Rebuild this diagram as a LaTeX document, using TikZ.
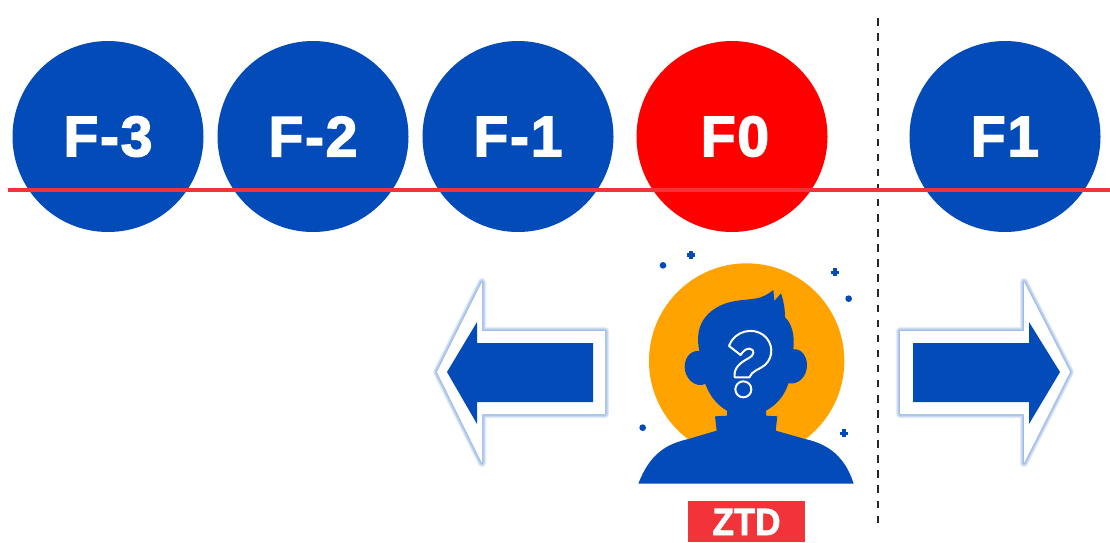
\documentclass[tikz,border=0pt]{standalone}
\usepackage{fontspec}
\setmainfont{Liberation Sans}
\newfontfamily\labelfont[LetterSpace=3,BoldFeatures={FakeBold=2.5}]{Liberation Sans}
\newfontfamily\tagfont[FakeStretch=0.92,BoldFeatures={FakeBold=2}]{Liberation Sans}
\definecolor{bluefill}{HTML}{024BB8}
\definecolor{redfill}{HTML}{FF0000}
\definecolor{redline}{HTML}{F23339}
\definecolor{sun}{HTML}{FFA300}
\definecolor{glow}{HTML}{2F6FD0}
\tikzset{
  frame/.style={circle,minimum size=191pt,inner sep=0pt,text=white,font=\labelfont\fontsize{57}{57}\selectfont\bfseries},
  bluecirc/.style={frame,fill=bluefill},
  redcirc/.style={frame,fill=redfill},
  arrowglow/.style={draw=glow,line join=round,opacity=0.11,fill=none},
  arrowface/.style={fill=white},
  arrowcore/.style={fill=bluefill},
  spark/.style={fill=bluefill},
  px/.style={x=1pt,y=-1pt},
  zoomA/.style={shift={(620,240)},x=0.33333pt,y=-0.33333pt}
}
\begin{document}
\begin{tikzpicture}[px]
\useasboundingbox (0,0) rectangle (1110,542);
\fill[white] (0,0) rectangle (1110,542);
% frames
\node[bluecirc] (f3) at (108,136.5) {F-3};
\node[bluecirc] (f2) at (313,136.5) {F-2};
\node[bluecirc] (f1) at (518,136.5) {F-1};
\node[redcirc] (f0) at (732,136.5) {\hspace*{6pt}F0};
\node[bluecirc] (fp) at (1005,136.5) {F1};
\draw[black!85,line width=1.5pt,dash pattern=on 7.5pt off 7.58pt] (878,18) -- (878,525);
\draw[redline,line width=4pt] (8,189.5) -- (1110,189.5);
% left arrow
\def\leftouter{(437,372) -- (482,282) -- (482,331) -- (605,331) -- (605,414) -- (482,414) -- (482,463) -- cycle}
\foreach \w in {8,6.5,5,3.5,2}{\draw[arrowglow,line width=\w pt] \leftouter;}
\fill[arrowface] \leftouter;
\fill[arrowcore] (447,372) -- (477,322) -- (477,343) -- (593,343) -- (593,402) -- (477,402) -- (477,424) -- cycle;
% right arrow
\def\rightouter{(1070,372) -- (1024,282) -- (1024,331) -- (900,331) -- (900,414) -- (1024,414) -- (1024,463) -- cycle}
\foreach \w in {8,6.5,5,3.5,2}{\draw[arrowglow,line width=\w pt] \rightouter;}
\fill[arrowface] \rightouter;
\fill[arrowcore] (1060,372) -- (1029,322) -- (1029,343) -- (913,343) -- (913,402) -- (1029,402) -- (1029,424) -- cycle;
% person
\begin{scope}[zoomA]
\fill[sun] (380,363) circle[radius=293];
\fill[bluefill] (55,731) .. controls (90,640) and (140,612) .. (205,597)
  -- (290,572) -- (285,529) -- (321,527) -- (321,512)
  .. controls (290,495) and (268,465) .. (256,432)
  .. controls (225,445) and (194,415) .. (194,380)
  .. controls (194,350) and (215,330) .. (238,333)
  .. controls (225,270) and (245,225) .. (300,197)
  .. controls (340,178) and (385,180) .. (410,175)
  .. controls (430,171) and (445,162) .. (460,150)
  -- (463,183) -- (483,160)
  .. controls (490,180) and (495,205) .. (495,232)
  .. controls (515,250) and (525,285) .. (520,328)
  .. controls (545,325) and (561,350) .. (561,375)
  .. controls (561,410) and (535,435) .. (505,430)
  .. controls (495,465) and (470,495) .. (438,512)
  -- (438,527) -- (472,529) -- (467,572) -- (555,597)
  .. controls (625,612) and (675,650) .. (701,731) -- cycle;
\draw[white,line width=2pt,line join=round]
  (327,318) .. controls (345,270) and (400,262) .. (430,285)
  .. controls (460,308) and (462,350) .. (435,375)
  .. controls (420,388) and (395,392) .. (388,412)
  -- (344,412)
  .. controls (340,385) and (360,368) .. (385,355)
  .. controls (405,345) and (405,328) .. (388,326)
  .. controls (378,325) and (368,335) .. (362,345) -- cycle;
\draw[white,line width=2pt] (370,448) circle[radius=24];
\foreach \p in {(129,76),(686,176),(68,563)}{\fill[spark] \p circle[radius=10];}
\foreach \p in {(213,45),(645,97),(672,580)}{
  \fill[spark] \p ++(-12,-5) rectangle ++(24,10);
  \fill[spark] \p ++(-5,-12) rectangle ++(10,24);
}
\end{scope}
% label
\node[fill=redline,minimum width=117pt,minimum height=41pt,inner sep=0pt] (ztdbox) at (746.5,521.5) {};
\node[anchor=base,text=white,inner sep=0pt,font=\tagfont\fontsize{38}{38}\selectfont\bfseries] (ztd) at (746.5,535) {ZTD};
\end{tikzpicture}
\end{document}
